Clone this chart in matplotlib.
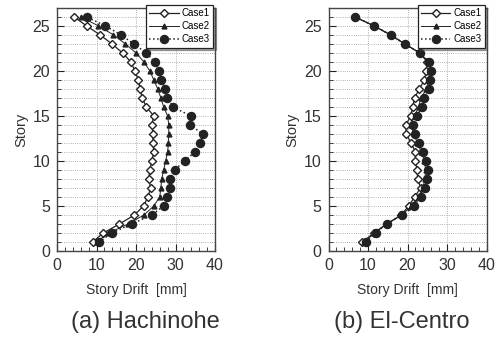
import numpy as np
import matplotlib
matplotlib.use('Agg')
import matplotlib.pyplot as plt
from matplotlib.ticker import MultipleLocator

story = list(range(1, 27))

# Hachinohe, story drift [mm], story 1..26
hachi_case1 = [9.0, 11.7, 15.8, 19.6, 21.9, 23.0, 23.7, 23.2, 23.5, 24.0, 24.5, 24.3, 24.3,
               24.0, 24.5, 22.6, 21.6, 21.0, 20.6, 19.7, 18.7, 16.6, 13.9, 10.9, 7.5, 4.3]
hachi_case2 = [10.0, 13.0, 18.0, 22.0, 24.5, 26.0, 26.3, 26.5, 27.0, 27.5, 28.0, 28.2, 28.3,
               28.3, 28.0, 27.0, 26.3, 25.5, 24.5, 23.5, 22.0, 20.0, 17.3, 14.3, 10.5, 6.0]
hachi_case3 = [10.6, 13.8, 18.9, 24.0, 27.0, 27.8, 28.5, 28.7, 29.8, 32.3, 34.9, 36.3, 36.9,
               33.7, 33.8, 29.4, 27.9, 27.4, 26.4, 25.8, 24.7, 22.6, 19.4, 16.2, 12.2, 7.5]

# El-Centro
elc_case1 = [8.6, 11.5, 14.7, 18.4, 20.3, 21.8, 23.3, 22.6, 22.4, 22.0, 22.0, 20.9, 19.7,
             19.6, 20.8, 21.3, 21.8, 23.0, 24.3, 24.7, 25.0, 23.1, 19.3, 15.7, 11.5, 6.7]
elc_case2 = [9.0, 11.7, 14.7, 18.6, 21.0, 22.8, 23.9, 24.4, 24.6, 24.3, 23.5, 22.5, 21.6,
             20.8, 21.8, 22.8, 23.4, 24.8, 25.3, 25.6, 25.3, 23.1, 19.3, 15.7, 11.5, 6.7]
elc_case3 = [9.4, 11.9, 14.7, 18.7, 21.6, 23.4, 24.4, 24.9, 25.1, 24.7, 23.9, 23.0, 22.0,
             21.3, 22.4, 23.7, 24.1, 25.4, 25.6, 25.9, 25.5, 23.1, 19.3, 15.7, 11.5, 6.7]

ink = '#222222'
plt.rcParams['font.family'] = ['Liberation Sans', 'DejaVu Sans']

fig = plt.figure(figsize=(5.0, 3.42), dpi=100)
ax1 = fig.add_axes([0.114, 0.266, 0.316, 0.711])
ax2 = fig.add_axes([0.657, 0.266, 0.316, 0.711])


def draw(ax, c1, c2, c3, title, tx):
    ax.plot(c1, story, '-', color=ink, lw=0.9, marker='D', ms=4.3, mfc='white',
            mec=ink, mew=1.0, label='Case1', zorder=3)
    ax.plot(c2, story, '-', color=ink, lw=0.7, marker='^', ms=3.5, mfc=ink,
            mec=ink, label='Case2', zorder=4)
    ax.plot(c3, story, ':', color=ink, lw=1.1, marker='o', ms=5.8, mfc=ink,
            mec=ink, label='Case3', zorder=5)
    ax.set_xlim(0, 40)
    ax.set_ylim(0, 27)
    ax.xaxis.set_major_locator(MultipleLocator(10))
    ax.xaxis.set_minor_locator(MultipleLocator(2))
    ax.yaxis.set_major_locator(MultipleLocator(5))
    ax.yaxis.set_minor_locator(MultipleLocator(1))
    ax.grid(True, which='major', axis='x', ls=':', color='#999999', lw=0.6)
    ax.grid(True, which='both', axis='y', ls=':', color='#999999', lw=0.6)
    ax.tick_params(which='both', direction='in', color=ink, labelcolor='#333333',
                   labelsize=11.5, pad=5)
    ax.tick_params(which='major', length=5)
    ax.tick_params(which='minor', length=3)
    for s in ax.spines.values():
        s.set_color('#444444')
        s.set_linewidth(1.0)
    ax.set_xlabel('Story Drift  [mm]', fontsize=10, color='#333333', labelpad=7)
    ax.set_ylabel('Story', fontsize=10.5, color='#333333', labelpad=3)
    leg = ax.legend(loc='upper right', bbox_to_anchor=(1.0, 1.02), fontsize=7,
                    frameon=True, fancybox=False, shadow=True, handlelength=3.0,
                    borderpad=0.35, labelspacing=0.3, handletextpad=0.3,
                    borderaxespad=0.2, framealpha=1)
    leg.get_frame().set_edgecolor(ink)
    leg.get_frame().set_linewidth(0.9)
    leg.set_zorder(10)
    fig.text(tx, 0.058, title, ha='center', va='center', fontsize=17, color='#333333')


draw(ax1, hachi_case1, hachi_case2, hachi_case3, '(a) Hachinohe', 0.29)
draw(ax2, elc_case1, elc_case2, elc_case3, '(b) El-Centro', 0.803)

fig.savefig('out.png', dpi=100)
